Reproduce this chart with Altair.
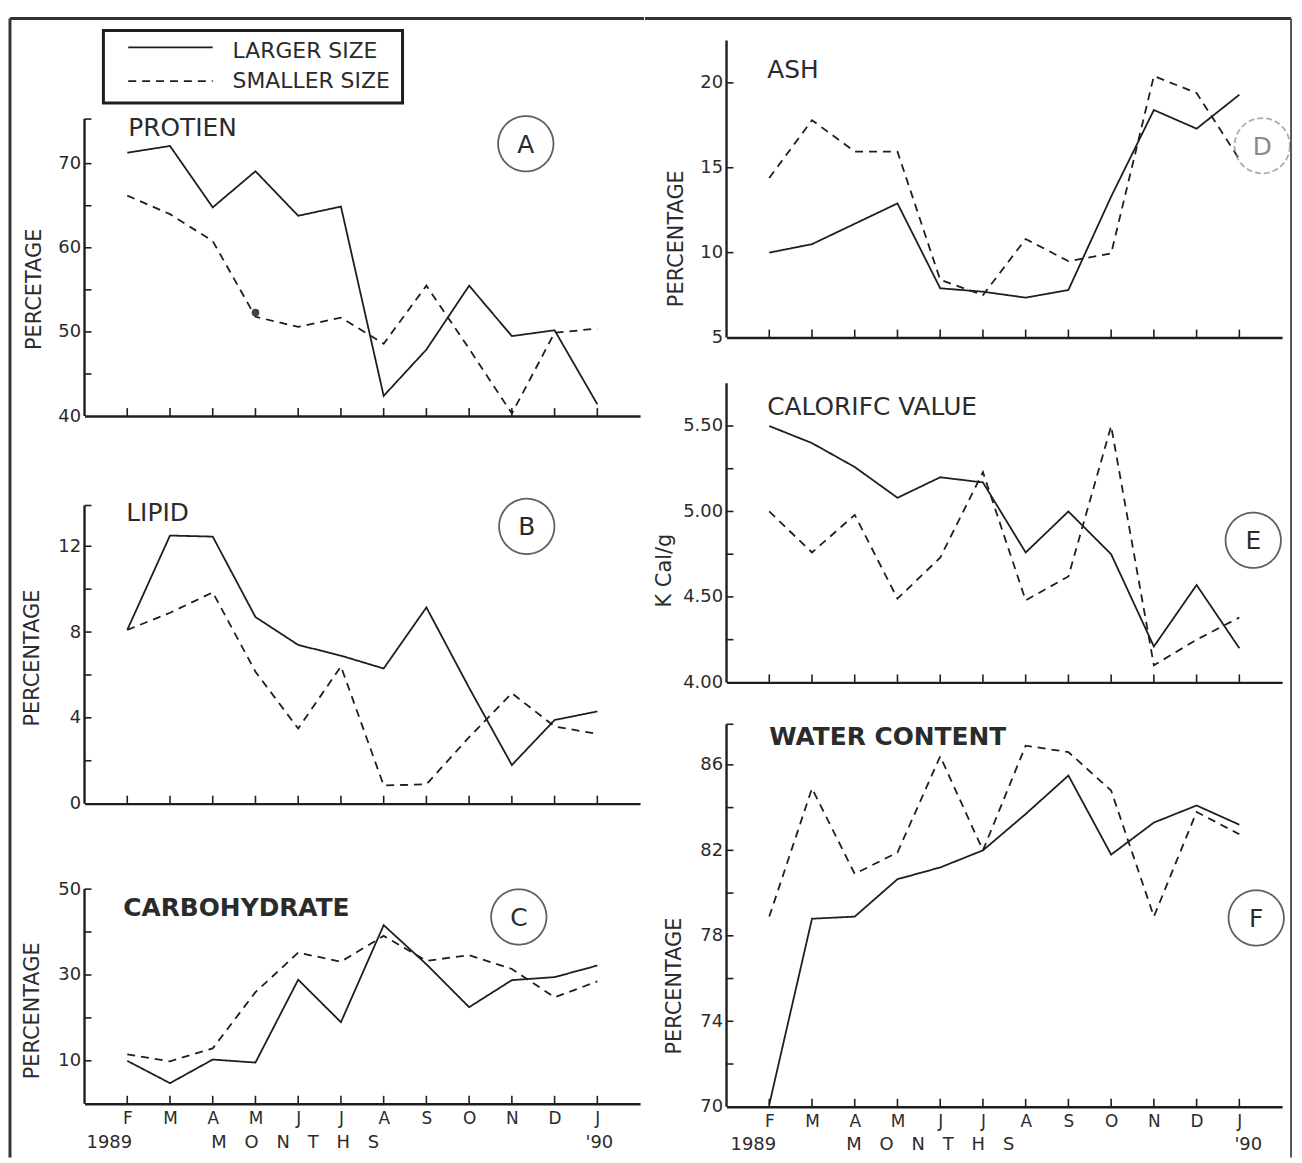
import altair as alt
import pandas as pd

MONTHS = ["F", "M", "A", "M", "J", "J", "A", "S", "O", "N", "D", "J"]
MONTH_IDX = list(range(1, 13))
SERIES = ["LARGER SIZE", "SMALLER SIZE"]

PROTEIN_LARGE = [71.3, 72.1, 64.8, 69.1, 63.8, 64.9, 42.4, 47.9, 55.5, 49.5, 50.2, 41.4]
PROTEIN_SMALL = [66.2, 64.0, 60.8, 51.8, 50.6, 51.7, 48.6, 55.5, 48.0, 40.3, 49.9, 50.4]
PROTEIN_DOT = [(4, 52.3)]
LIPID_LARGE = [8.1, 12.5, 12.45, 8.7, 7.4, 6.9, 6.3, 9.15, 5.4, 1.8, 3.9, 4.3]
LIPID_SMALL = [8.1, 8.9, 9.85, 6.15, 3.5, 6.4, 0.85, 0.9, 3.1, 5.15, 3.6, 3.25]
CARB_LARGE = [10.0, 4.8, 10.3, 9.6, 28.9, 19.0, 41.6, 32.5, 22.5, 28.8, 29.5, 32.2]
CARB_SMALL = [11.5, 9.9, 12.9, 26.0, 35.2, 33.1, 39.1, 33.3, 34.6, 31.4, 24.8, 28.5]
ASH_LARGE = [10.0, 10.5, 11.7, 12.9, 7.9, 7.7, 7.35, 7.8, 13.3, 18.4, 17.3, 19.3]
ASH_SMALL = [14.4, 17.8, 15.95, 15.95, 8.4, 7.5, 10.8, 9.5, 9.95, 20.4, 19.4, 15.5]
CAL_LARGE = [5.50, 5.40, 5.26, 5.08, 5.20, 5.17, 4.76, 5.00, 4.75, 4.21, 4.57, 4.20]
CAL_SMALL = [5.00, 4.76, 4.98, 4.49, 4.73, 5.23, 4.48, 4.62, 5.50, 4.10, 4.25, 4.38]
WATER_LARGE = [70.1, 78.8, 78.9, 80.65, 81.2, 82.0, 83.7, 85.5, 81.8, 83.3, 84.1, 83.2]
WATER_SMALL = [78.9, 84.9, 80.9, 81.9, 86.4, 82.0, 86.9, 86.6, 84.8, 78.9, 83.8, 82.75]

INK = "#1e1e1e"
TXT = "#2b2b2b"
FONT = "DejaVu Sans"
W = 559

label_expr = "[" + ",".join(["''"] + ["'%s'" % m for m in MONTHS] + ["''"]) + "][datum.value]"


def one():
    return pd.DataFrame({"k": [0]})


def panel(large, small, domain, axis_top, height, tick_vals, label_vals, fmt, title, title_pos,
          title_bold, letter, circle_pos, ytitle, ytitle_pos, show_x=False,
          circle_dashed=False, bottom_texts=None, dots=None, extra=None):
    df = pd.DataFrame({
        "idx": MONTH_IDX * 2,
        "value": list(large) + list(small),
        "series": [SERIES[0]] * 12 + [SERIES[1]] * 12,
    })
    x_axis = alt.Axis(values=MONTH_IDX, labels=show_x, labelExpr=label_expr, ticks=False,
                      grid=False, title=None, domainColor=INK, domainWidth=2.4,
                      labelFontSize=17, labelPadding=7, labelColor=TXT, labelFont=FONT)
    y_axis = alt.Axis(values=label_vals, format=fmt, ticks=False, grid=False, domain=False,
                      labelFontSize=18, labelPadding=4, labelColor=TXT, labelFont=FONT,
                      title=ytitle, titleX=ytitle_pos[0], titleY=ytitle_pos[1],
                      titleAngle=270, titleAlign="center", titleBaseline="middle",
                      titleFontSize=21, titleFontWeight="normal", titleColor=TXT,
                      titleFont=FONT)
    x_enc = alt.X("idx:Q", scale=alt.Scale(domain=[0, 13], nice=False, zero=False), axis=x_axis)
    y_enc = alt.Y("value:Q", scale=alt.Scale(domain=domain, nice=False, zero=False), axis=y_axis)

    lines = alt.Chart(df).mark_line(color=INK, strokeWidth=1.8).encode(
        x=x_enc, y=y_enc,
        strokeDash=alt.StrokeDash("series:N", scale=alt.Scale(domain=SERIES, range=[[1, 0], [8, 6]]),
                                  legend=None),
    )
    yline = alt.Chart(pd.DataFrame({"value": [domain[0]], "value2": [axis_top]})).mark_rule(
        color=INK, strokeWidth=2.4).encode(y=y_enc, y2="value2:Q", x=alt.value(0))
    xt = alt.Chart(pd.DataFrame({"idx": MONTH_IDX})).mark_rule(color=INK, strokeWidth=1.6).encode(
        x=x_enc, y=alt.value(height), y2=alt.value(height - 8)
    )
    yt = alt.Chart(pd.DataFrame({"value": tick_vals})).mark_rule(color=INK, strokeWidth=1.6).encode(
        y=y_enc, x=alt.value(0), x2=alt.value(7)
    )
    ttl = alt.Chart(one()).mark_text(text=title, align="left", baseline="middle", fontSize=25,
                                     font=FONT, color=TXT,
                                     fontWeight="bold" if title_bold else "normal").encode(
        x=alt.value(title_pos[0]), y=alt.value(title_pos[1])
    )
    circ = alt.Chart(one()).mark_point(shape="circle", size=3100, filled=False,
                                       color="#8a8a8a" if circle_dashed else INK,
                                       strokeWidth=1.8,
                                       strokeDash=[6, 3] if circle_dashed else [1, 0]).encode(
        x=alt.value(circle_pos[0]), y=alt.value(circle_pos[1])
    )
    let = alt.Chart(one()).mark_text(text=letter, align="center", baseline="middle", fontSize=25,
                                     font=FONT, color="#8a8a8a" if circle_dashed else TXT).encode(
        x=alt.value(circle_pos[0]), y=alt.value(circle_pos[1] + 1)
    )
    layers = [lines, yline, xt, yt, ttl, circ, let]
    if dots:
        ddf = pd.DataFrame({"idx": [d[0] for d in dots], "value": [d[1] for d in dots]})
        layers.append(alt.Chart(ddf).mark_point(shape="circle", filled=True, size=60,
                                                color="#444", opacity=1).encode(x=x_enc, y=y_enc))
    if bottom_texts:
        for t, px in bottom_texts:
            layers.append(alt.Chart(one()).mark_text(text=t, align="center", baseline="middle",
                                                     fontSize=18, font=FONT, color=TXT).encode(
                x=alt.value(px), y=alt.value(height + 39)))
    if extra:
        layers.extend(extra)
    return alt.layer(*layers).properties(width=W, height=height)


SP = "\u2003"
MONTHS_WORD = SP.join(list("MONTHS"))


def rule_px(x, y, x2=None, y2=None, color="#333", width=3, dash=None):
    enc = {"x": alt.value(x), "y": alt.value(y)}
    if x2 is not None:
        enc["x2"] = alt.value(x2)
    if y2 is not None:
        enc["y2"] = alt.value(y2)
    kw = {"color": color, "strokeWidth": width}
    if dash:
        kw["strokeDash"] = dash
    return alt.Chart(one()).mark_rule(**kw).encode(**enc)


# legend box and left/top part of the page frame (pixels relative to panel A)
LEFT_EXTRA = [
    alt.Chart(one()).mark_rect(fillOpacity=0, stroke=INK, strokeWidth=3).encode(
        x=alt.value(19), x2=alt.value(320), y=alt.value(-10), y2=alt.value(63)),
    rule_px(44, 7, x2=129, color=INK, width=1.8),
    rule_px(44, 41, x2=129, color=INK, width=1.6, dash=[8, 6]),
    alt.Chart(one()).mark_text(text=SERIES[0], align="left", baseline="middle", fontSize=22,
                               font=FONT, color=TXT).encode(x=alt.value(149), y=alt.value(11)),
    alt.Chart(one()).mark_text(text=SERIES[1], align="left", baseline="middle", fontSize=22,
                               font=FONT, color=TXT).encode(x=alt.value(149), y=alt.value(41)),
    rule_px(-75, -22, x2=563),
    rule_px(-75, -22, y2=1124),
]
# right/top part of the page frame (pixels relative to panel D)
RIGHT_EXTRA = [
    rule_px(-82, -22, x2=568),
    rule_px(568, -22, y2=1124, color="#555", width=2),
]

A = panel(PROTEIN_LARGE, PROTEIN_SMALL, [40, 84.65], 75.3, 378, [45, 50, 55, 60, 65, 70, 75.3],
          [40, 50, 60, 70], "d", "PROTIEN", (44, 88), False, "A", (444, 104),
          "PERCETAGE", (-50, 250), dots=PROTEIN_DOT, extra=LEFT_EXTRA)
B = panel(LIPID_LARGE, LIPID_SMALL, [0, 15.94], 13.9, 344, [2, 4, 6, 8, 10, 12, 13.9],
          [0, 4, 8, 12], "d", "LIPID", (42, 52), False, "B", (445, 65),
          "PERCENTAGE", (-52, 197))
C = panel(CARB_LARGE, CARB_SMALL, [0, 59.26], 50, 256, [10, 20, 30, 40, 50],
          [10, 30, 50], "d", "CARBOHYDRATE", (39, 59), True, "C", (437, 68),
          "PERCENTAGE", (-52, 162), show_x=True,
          bottom_texts=[("1989", 25), (MONTHS_WORD, 212), ("'90", 518)])
D = panel(ASH_LARGE, ASH_SMALL, [5, 22.5], 22.5, 299, [10, 15, 20],
          [5, 10, 15, 20], "d", "ASH", (41, 30), False, "D", (539, 106),
          "PERCENTAGE", (-50, 199), circle_dashed=True, extra=RIGHT_EXTRA)
E = panel(CAL_LARGE, CAL_SMALL, [4, 5.785], 5.75, 307, [4.25, 4.5, 4.75, 5.0, 5.25, 5.5],
          [4.0, 4.5, 5.0, 5.5], ".2f", "CALORIFC VALUE", (41, 30), False, "E", (530, 164),
          "K Cal/g", (-62, 194))
F = panel(WATER_LARGE, WATER_SMALL, [70, 88], 87.9, 387, [72, 74, 76, 78, 80, 82, 84, 86, 87.9],
          [70, 74, 78, 82, 86], "d", "WATER CONTENT", (43, 15), True, "F", (533, 197),
          "PERCENTAGE", (-52, 265), show_x=True,
          bottom_texts=[("1989", 27), (MONTHS_WORD, 205), ("'90", 525)])

left = alt.vconcat(A, B, C, spacing=46, bounds="flush")
right = alt.vconcat(D, E, F, spacing=40, bounds="flush")

chart = alt.hconcat(left, right, spacing=-3).properties(
    padding={"left": 0, "top": 5, "right": 0, "bottom": 0},
    background="white",
).configure_view(stroke=None)

chart.save("out.html", embed_options={"renderer": "svg", "actions": False})
